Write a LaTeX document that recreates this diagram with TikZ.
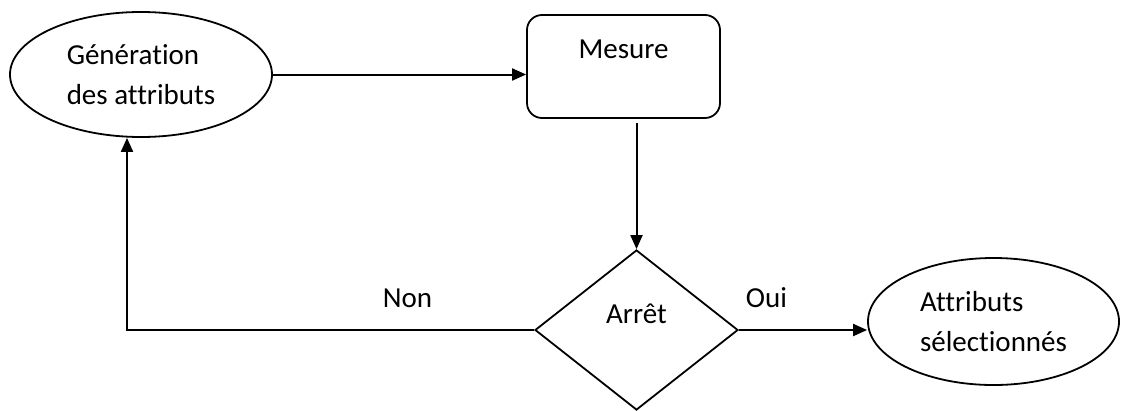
\documentclass[tikz,border=0pt]{standalone}
\usepackage{fontspec}
\setmainfont{Carlito}[Ligatures=NoCommon]
\usetikzlibrary{shapes.geometric,arrows.meta}
\begin{document}
\begin{tikzpicture}[x=1pt,y=-1pt,
  every node/.style={font=\fontsize{29}{39.5}\selectfont},
  oval/.style={draw,ellipse,line width=1.8pt,inner sep=0pt,align=left},
  box/.style={draw,rectangle,rounded corners=15pt,line width=1.8pt,inner sep=0pt},
  test/.style={draw,diamond,line width=1.8pt,inner sep=0pt},
  flow/.style={line width=2pt,-{Triangle[length=14pt,width=12pt]}},
  lbl/.style={inner sep=0pt}]
\useasboundingbox (0,0) rectangle (1121,410);

% nodes
\node[oval,minimum width=262pt,minimum height=125pt] (g) at (141,74.5)
  {Génération\\des attributs};
\node[box,minimum width=193pt,minimum height=103pt,text height=20pt,text depth=37pt] (m) at (623.5,66.5) {Mesure};
\node[test,minimum width=203pt,minimum height=160pt,text height=20pt,text depth=34pt] (d) at (636.5,330) {Arrêt\hspace{19pt}};
\node[oval,minimum width=251pt,minimum height=127pt] (s) at (993.5,321.5)
  {Attributs\\sélectionnés};

% connectors
\coordinate (lp) at ([xshift=-14pt]g.south);
\draw[flow] (g.east) -- (g.east -| m.west);
\draw[flow] ([yshift=-4pt]m.south -| d.north) -- (d.north);
\draw[flow] (d.west) -- node[lbl,pos=0.311,yshift=32pt]{Non} (d.west -| lp) -- (lp);
\draw[flow] (d.east) -- node[lbl,pos=0.215,yshift=32pt]{Oui} (d.east -| s.west);
\end{tikzpicture}
\end{document}
